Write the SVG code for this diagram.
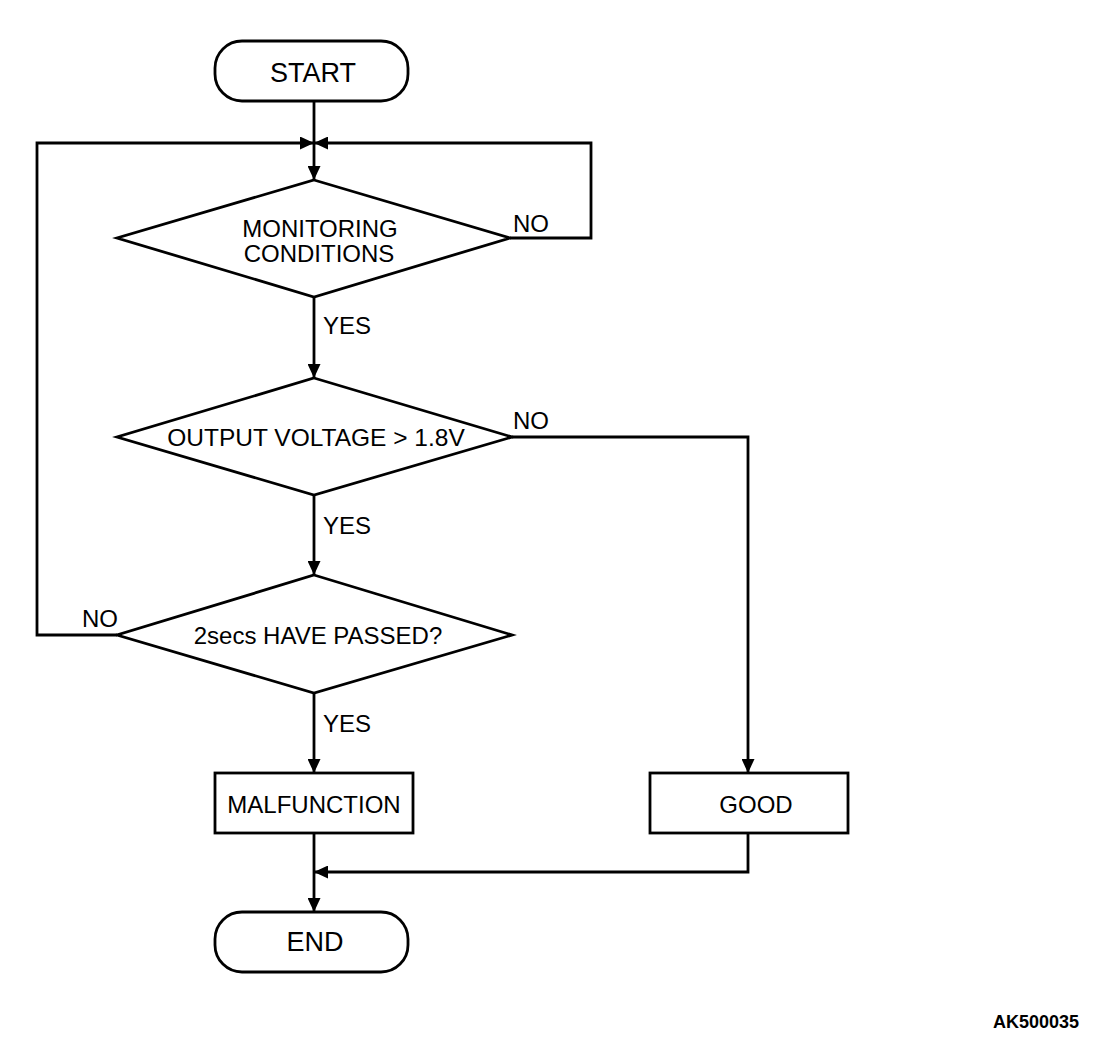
<svg xmlns="http://www.w3.org/2000/svg" width="1120" height="1038" viewBox="0 0 1120 1038">
<style>
.shape{fill:#fff;stroke:#000;stroke-width:2.8}
.line{fill:none;stroke:#000;stroke-width:2.8}
text{font-family:"Liberation Sans",Arial,sans-serif;font-size:24px;fill:#000}
.c{text-anchor:middle}
.t{font-size:27px}
.id{font-size:18px;font-weight:bold}
</style>
<defs>
<marker id="ah" markerUnits="userSpaceOnUse" markerWidth="15" markerHeight="13" refX="14" refY="6.5" orient="auto">
<path d="M0,0 L14,6.5 L0,13 Z" fill="#000"/>
</marker>
</defs>
<rect width="1120" height="1038" fill="#fff"/>
<g id="connectors">
<path class="line" d="M314,101 V180" marker-end="url(#ah)"/>
<path class="line" d="M117,635 H37 V143 H314" marker-end="url(#ah)"/>
<path class="line" d="M510,238 H591 V143 H314" marker-end="url(#ah)"/>
<path class="line" d="M314,297 V378" marker-end="url(#ah)"/>
<path class="line" d="M314,495 V575" marker-end="url(#ah)"/>
<path class="line" d="M314,693 V773" marker-end="url(#ah)"/>
<path class="line" d="M512,437 H748 V773" marker-end="url(#ah)"/>
<path class="line" d="M314,833 V912" marker-end="url(#ah)"/>
<path class="line" d="M748,833 V872 H314" marker-end="url(#ah)"/>
<text x="513" y="232">NO</text>
<text x="513" y="429">NO</text>
<text x="82" y="627">NO</text>
<text x="323" y="334">YES</text>
<text x="323" y="534">YES</text>
<text x="323" y="732">YES</text>
</g>
<g id="start">
<rect class="shape" x="215" y="41" width="193" height="60" rx="27"/>
<text class="c t" x="313" y="82">START</text>
</g>
<g id="monitoring">
<polygon class="shape" points="314,180 510,238 314,297 117,238"/>
<text class="c" x="320" y="237">MONITORING</text>
<text class="c" x="319" y="262">CONDITIONS</text>
</g>
<g id="voltage">
<polygon class="shape" points="314,378 512,437 314,495 117,437"/>
<text class="c" x="316" y="446" style="font-size:24.5px">OUTPUT VOLTAGE &gt; 1.8V</text>
</g>
<g id="passed">
<polygon class="shape" points="314,575 512,635 314,693 117,635"/>
<text class="c" x="318" y="644">2secs HAVE PASSED?</text>
</g>
<g id="malfunction">
<rect class="shape" x="215" y="773" width="198" height="60"/>
<text class="c" x="314" y="813">MALFUNCTION</text>
</g>
<g id="good">
<rect class="shape" x="650" y="773" width="198" height="60"/>
<text class="c" x="756" y="813">GOOD</text>
</g>
<g id="end">
<rect class="shape" x="215" y="912" width="193" height="60" rx="27"/>
<text class="c t" x="315" y="951">END</text>
</g>
<text class="id" x="993" y="1028">AK500035</text>
</svg>
